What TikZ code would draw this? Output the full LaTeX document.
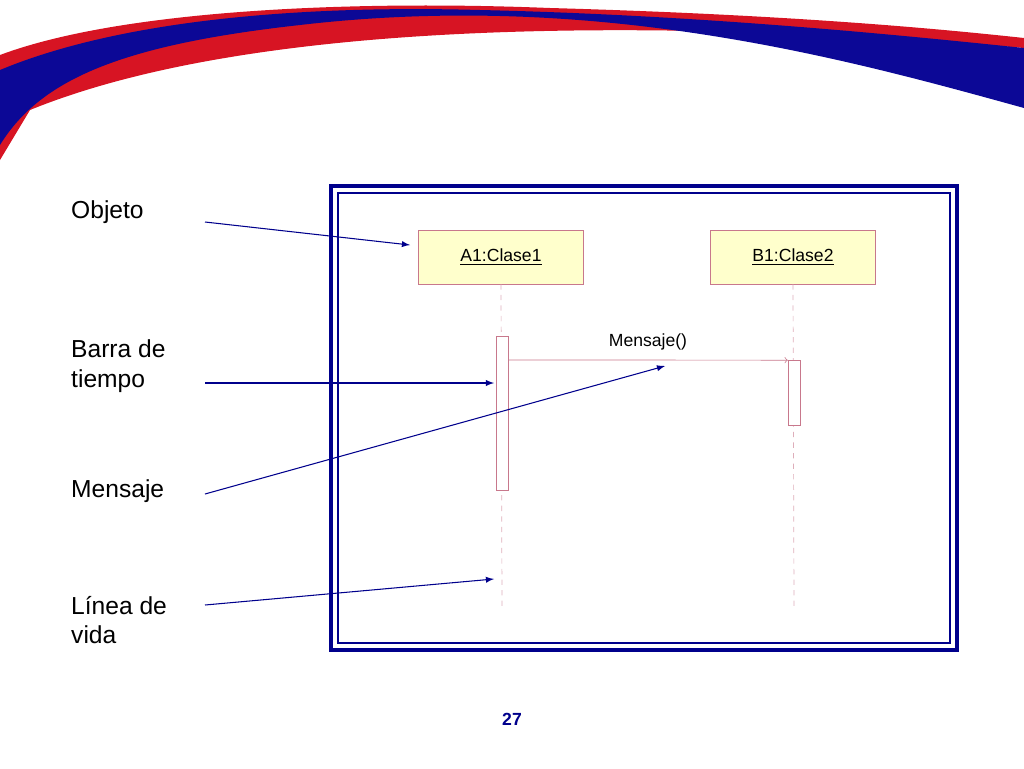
\documentclass[tikz,border=0pt]{standalone}
\usepackage{fontspec}
\setmainfont{Liberation Sans}
\usetikzlibrary{arrows,positioning}
\definecolor{swblue}{RGB}{12,8,150}
\definecolor{swred}{RGB}{215,20,35}
\definecolor{ptrblue}{RGB}{0,0,140}
\definecolor{boxfill}{RGB}{255,255,204}
\definecolor{umlline}{RGB}{200,120,140}
\tikzstyle{pointer} = [semithick,->,>=latex,color=ptrblue]

\begin{document}
\begin{tikzpicture}[x=0.02cm,y=-0.02cm,
    obj/.style={rectangle, draw=umlline, fill=boxfill, minimum width=3.3cm, minimum height=1.08cm, font=\fontsize{10}{12}\selectfont},
    bar/.style={rectangle, draw=umlline, fill=white, minimum width=0.2cm},
    tag/.style={font=\fontsize{14}{17}\selectfont, align=left, anchor=west}
]
\useasboundingbox (0,0) rectangle (1024,768);
% swoosh at the top
\fill[swred] (0,55) .. controls (120,10) and (350,0) .. (550,8)
  .. controls (800,15) and (950,30) .. (1024,38) -- (1024,48)
  .. controls (800,30) and (300,0) .. (30,110) -- (0,160) -- cycle;
\fill[swblue] (0,70) .. controls (120,20) and (300,5) .. (480,10)
  .. controls (700,15) and (900,35) .. (1024,48) -- (1024,108)
  .. controls (850,60) and (600,-10) .. (300,25)
  .. controls (120,45) and (40,80) .. (0,145) -- cycle;
% frame
\draw[ptrblue, line width=2.4pt] (331,186) rectangle (957,650);
\draw[ptrblue, line width=0.8pt] (338,193) rectangle (950,643);
% objects
\node[obj] (a1) at (501,257) {\underline{A1:Clase1}};
\node[obj] (b1) at (793,257) {\underline{B1:Clase2}};
\draw[umlline!60, dashed] (a1.south) -- (502,606);
\draw[umlline!60, dashed] (b1.south) -- (794,606);
\node[bar, minimum height=3.08cm] (ta) at (502,413) {};
\node[bar, minimum height=1.3cm] (tb) at (794,393) {};
\draw[umlline, ->, >=to] (ta.east |- 0,360) -- (tb.north west) node[midway, above=2pt, text=black, font=\fontsize{10}{12}\selectfont] {Mensaje()};
% labels
\node[tag] (lobj) at (65,212) {Objeto};
\node[tag] (lbar) at (65,366) {Barra de\\tiempo};
\node[tag] (lmsg) at (65,491) {Mensaje};
\node[tag] (lvida) at (65,620) {Línea de\\vida};
\draw[pointer] (205,222) -- (410,245);
\draw[pointer] (205,383) -- (494,383);
\draw[pointer] (205,494) -- (665,366);
\draw[pointer] (205,605) -- (494,579);
\node[font=\fontsize{10}{12}\selectfont\bfseries, text=ptrblue] (pg) at (512,719) {27};
\end{tikzpicture}
\end{document}
